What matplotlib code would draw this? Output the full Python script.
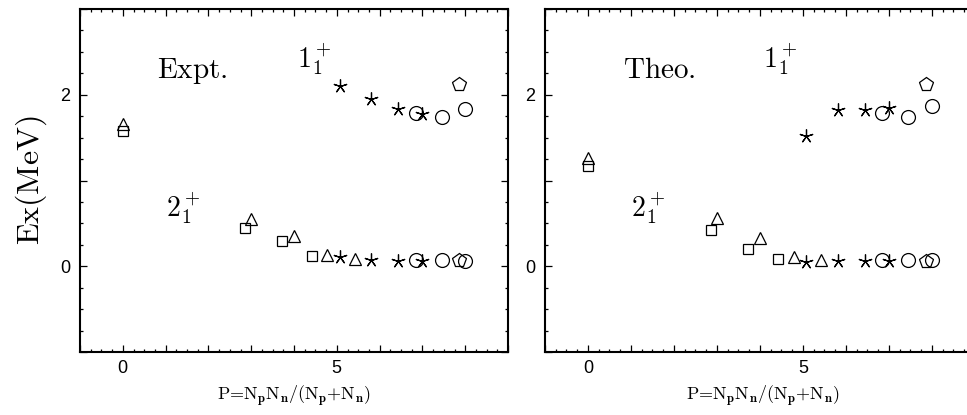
import matplotlib
matplotlib.use("Agg")
import matplotlib.pyplot as plt
from matplotlib.ticker import MultipleLocator, FuncFormatter

plt.rcParams['mathtext.fontset'] = 'cm'

# P values for each nucleus group (marker type)
sq_P = [0.0, 2.85, 3.73, 4.43]
tri_P = [0.0, 2.99, 4.0, 4.78, 5.43]
star_P = [5.07, 5.81, 6.44, 6.99]
circ_P = [6.84, 7.45, 7.99]
pent_P = [7.86]

# Experimental energies (MeV)
ex_sq_E2 = [1.58, 0.445, 0.29, 0.116]
ex_tri_E2 = [1.66, 0.55, 0.35, 0.128, 0.089]
ex_star_E2 = [0.105, 0.077, 0.066, 0.058]
ex_star_E1 = [2.10, 1.95, 1.83, 1.77]
ex_circ_E2 = [0.077, 0.07, 0.066]
ex_circ_E1 = [1.79, 1.74, 1.83]
ex_pent_E2 = [0.077]
ex_pent_E1 = [2.12]

# Theoretical energies (MeV)
th_sq_E2 = [1.17, 0.42, 0.20, 0.089]
th_tri_E2 = [1.26, 0.56, 0.33, 0.105, 0.077]
th_star_E2 = [0.047, 0.066, 0.058, 0.058]
th_star_E1 = [1.52, 1.82, 1.82, 1.84]
th_circ_E2 = [0.07, 0.07, 0.07]
th_circ_E1 = [1.79, 1.74, 1.87]
th_pent_E2 = [0.066]
th_pent_E1 = [2.13]

panel_titles = ["Expt.", "Theo."]

W, H = 967, 415
fig = plt.figure(figsize=(W / 100, H / 100), dpi=100)
ax1 = fig.add_axes([80 / W, (H - 352) / H, 428 / W, 343 / H])
ax2 = fig.add_axes([545 / W, (H - 352) / H, 436 / W, 343 / H])

STAR = (5, 2, 0)
kw = dict(ls='none', mfc='none', mec='black', mew=0.9)

def draw(ax, sqE2, triE2, stE2, stE1, ciE2, ciE1, peE2, peE1, title, xmax):
    ax.plot(sq_P, sqE2, marker='s', ms=7.5, **kw)
    ax.plot(tri_P, triE2, marker='^', ms=8.5, **kw)
    ax.plot(star_P, stE2, marker=STAR, ms=10, **kw)
    ax.plot(star_P, stE1, marker=STAR, ms=10, **kw)
    ax.plot(circ_P, ciE2, marker='o', ms=10, **kw)
    ax.plot(circ_P, ciE1, marker='o', ms=10, **kw)
    ax.plot(pent_P, peE2, marker='p', ms=10, **kw)
    ax.plot(pent_P, peE1, marker='p', ms=10, **kw)
    ax.set_xlim(-1, xmax)
    ax.set_ylim(-1, 3)
    ax.xaxis.set_major_locator(MultipleLocator(1))
    ax.xaxis.set_minor_locator(MultipleLocator(0.25))
    ax.yaxis.set_major_locator(MultipleLocator(1))
    ax.yaxis.set_minor_locator(MultipleLocator(0.25))
    ax.xaxis.set_major_formatter(FuncFormatter(lambda v, p: f"{v:.0f}" if round(v) in (0, 5) else ""))
    ax.yaxis.set_major_formatter(FuncFormatter(lambda v, p: f"{v:.0f}" if round(v) in (0, 2) else ""))
    ax.tick_params(which='both', direction='in', top=True, right=True, width=0.9)
    ax.tick_params(which='major', length=5, labelsize=13)
    ax.tick_params(axis='y', which='major', pad=7)
    ax.tick_params(axis='x', which='major', pad=6)
    ax.tick_params(which='minor', length=2.5)
    for lab in ax.get_xticklabels() + ax.get_yticklabels():
        lab.set_family('Liberation Sans')
    for s in ax.spines.values():
        s.set_linewidth(1.5)
    ax.set_xlabel(r'P=N$_\mathbf{p}$N$_\mathbf{n}$/(N$_\mathbf{p}$+N$_\mathbf{n}$)',
                  fontsize=13, labelpad=4, family='cmr10')
    ax.text(0.81, 2.20, r'$\mathrm{' + title + '}$', fontsize=21, va='baseline', ha='left')
    ax.text(4.07, 2.31, r'$1_1^+$', fontsize=20, va='baseline', ha='left')
    ax.text(1.0, 0.58, r'$2_1^+$', fontsize=20, va='baseline', ha='left')

draw(ax1, ex_sq_E2, ex_tri_E2, ex_star_E2, ex_star_E1, ex_circ_E2, ex_circ_E1,
     ex_pent_E2, ex_pent_E1, panel_titles[0], 9)
draw(ax2, th_sq_E2, th_tri_E2, th_star_E2, th_star_E1, th_circ_E2, th_circ_E1,
     th_pent_E2, th_pent_E1, panel_titles[1], 9.14)

ax1.set_ylabel(r'$\mathrm{Ex(MeV)}$', fontsize=23, labelpad=8)

fig.savefig("out.png", dpi=100)
